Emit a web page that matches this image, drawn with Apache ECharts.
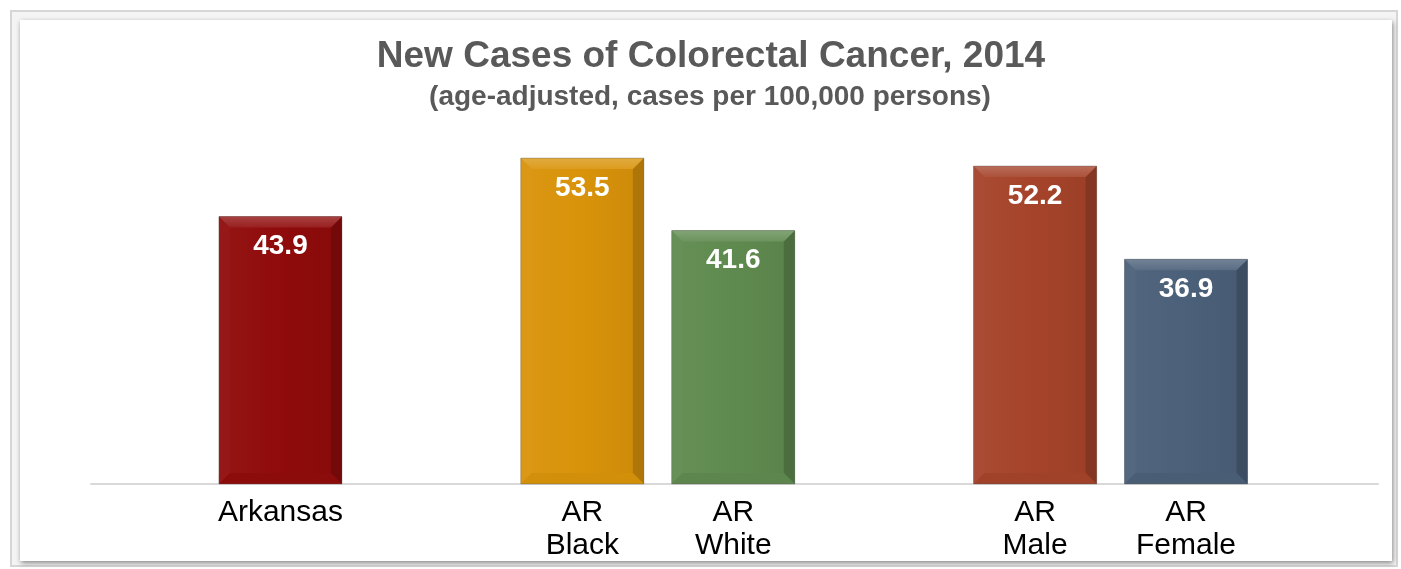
<!DOCTYPE html>
<html>
<head>
<meta charset="utf-8">
<script src="https://cdn.jsdelivr.net/npm/echarts@6/dist/echarts.min.js"></script>
<style>
  html, body { margin: 0; padding: 0; background: #ffffff; }
  #chart { width: 1401px; height: 569px; }
</style>
</head>
<body>
<div id="chart"></div>
<script>
// Incidence of colorectal cancer by group (age-adjusted, per 100,000)
const categories = ['Arkansas', '', 'AR\nBlack', 'AR\nWhite', '', 'AR\nMale', 'AR\nFemale'];
const values = [43.9, null, 53.5, 41.6, null, 52.2, 36.9];
const barColors = ['#900b0b', null, '#d9930a', '#5f8a4f', null, '#a5432a', '#4b6079'];
const titleText = 'New Cases of Colorectal Cancer, 2014';
const subtitleText = '(age-adjusted, cases per 100,000 persons)';

function mix(hex, target, t) {
  const a = parseInt(hex.slice(1), 16);
  const r = (a >> 16) & 255, g = (a >> 8) & 255, b = a & 255;
  const m = (c) => Math.round(c + (target - c) * t);
  return 'rgb(' + m(r) + ',' + m(g) + ',' + m(b) + ')';
}
const lighten = (c, t) => mix(c, 255, t);
const darken = (c, t) => mix(c, 0, t);

const seriesData = [];
values.forEach((v, i) => {
  if (v != null) seriesData.push([i, v]);
});

const FONT = '"Liberation Sans", Arial, sans-serif';

// Bevelled bar drawn from the axis coordinates
function renderBar(params, api) {
  const idx = api.value(0);
  const val = api.value(1);
  const color = barColors[idx];
  const top = api.coord([idx, val]);
  const base = api.coord([idx, 0]);
  const w = api.size([1, 0])[0] * 0.815;
  const x0 = top[0] - w / 2, x1 = top[0] + w / 2;
  const y0 = top[1], y1 = base[1];
  const b = 11;
  const poly = (pts, fill) => ({ type: 'polygon', shape: { points: pts }, style: { fill: fill } });
  return {
    type: 'group',
    children: [
      { type: 'rect', shape: { x: x0, y: y0, width: w, height: y1 - y0 },
        style: { fill: {
          type: 'linear', x: 0, y: 0, x2: 1, y2: 0,
          colorStops: [
            { offset: 0, color: lighten(color, 0.04) },
            { offset: 0.5, color: color },
            { offset: 1, color: darken(color, 0.06) }
          ] } } },
      // left side
      poly([[x0, y0], [x0 + b, y0 + b], [x0 + b, y1 - b], [x0, y1]], lighten(color, 0.05)),
      // right side
      poly([[x1, y0], [x1 - b, y0 + b], [x1 - b, y1 - b], [x1, y1]], darken(color, 0.2)),
      // bottom
      poly([[x0, y1], [x0 + b, y1 - b], [x1 - b, y1 - b], [x1, y1]], darken(color, 0.03)),
      // top
      poly([[x0, y0], [x1, y0], [x1 - b, y0 + b], [x0 + b, y0 + b]], {
        type: 'linear', x: 0, y: 0, x2: 0, y2: 1,
        colorStops: [
          { offset: 0, color: lighten(color, 0.22) },
          { offset: 1, color: lighten(color, 0.08) }
        ] }),
      { type: 'rect', shape: { x: x0, y: y0, width: w, height: y1 - y0 },
        style: { fill: null, stroke: 'rgba(90,90,90,0.35)', lineWidth: 1 } },
      { type: 'text', style: {
          text: String(val.toFixed(1)), x: top[0], y: y0 + 30,
          align: 'center', verticalAlign: 'middle',
          fill: '#ffffff', font: 'bold 28px ' + FONT } }
    ]
  };
}

const chart = echarts.init(document.getElementById('chart'), null, { renderer: 'canvas' });
chart.setOption({
  backgroundColor: '#ffffff',
  animation: false,
  graphic: [
    { type: 'rect', z: -10, shape: { x: 11, y: 11, width: 1386, height: 555 },
      style: { fill: '#f4f4f4', stroke: '#d6d6d6', lineWidth: 2 } },
    { type: 'rect', z: -9, shape: { x: 20, y: 20, width: 1372, height: 541 },
      style: { fill: '#ffffff', shadowColor: 'rgba(0,0,0,0.45)', shadowBlur: 5, shadowOffsetX: 1, shadowOffsetY: 2 } },
    { type: 'text', x: 711, y: 57,
      style: { text: titleText, fill: '#595959', font: 'bold 37px ' + FONT, align: 'center', verticalAlign: 'middle' } },
    { type: 'text', x: 710, y: 97,
      style: { text: subtitleText, fill: '#595959', font: 'bold 28px ' + FONT, align: 'center', verticalAlign: 'middle' } }
  ],
  grid: [
    { left: 205, right: 139.5, top: 118.5, bottom: 85 },
    { left: 91, right: 23, top: 118.5, bottom: 85 }
  ],
  xAxis: [
    { type: 'category', gridIndex: 0, data: categories,
      axisLine: { show: false }, axisTick: { show: false },
      axisLabel: { color: '#000000', fontSize: 30, lineHeight: 33, margin: 12,
        fontFamily: FONT, interval: 0 } },
    { type: 'category', gridIndex: 1, data: [''],
      axisLine: { show: true, lineStyle: { color: '#d9d9d9', width: 2 } },
      axisTick: { show: false }, axisLabel: { show: false } }
  ],
  yAxis: [
    { type: 'value', gridIndex: 0, min: 0, max: 60, show: false },
    { type: 'value', gridIndex: 1, min: 0, max: 60, show: false }
  ],
  series: [{
    type: 'custom',
    xAxisIndex: 0, yAxisIndex: 0,
    renderItem: renderBar,
    data: seriesData,
    z: 5
  }]
});
</script>
</body>
</html>
